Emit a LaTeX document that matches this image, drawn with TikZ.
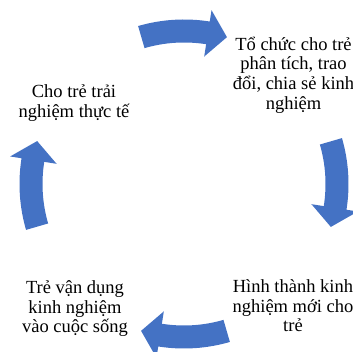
\documentclass[tikz,border=0pt]{standalone}
\usepackage{fontspec}
\setmainfont{Liberation Serif}
\definecolor{arrowblue}{RGB}{68,114,196}
\tikzset{
  lbl/.style={align=center, inner sep=0pt, anchor=north,
    font=\fontsize{18.5}{19.7}\selectfont,
    execute at begin node={\lineskiplimit=-100pt\relax\rule{0pt}{18pt}}},
  pics/cyc arrow/.style={code={
    \fill[arrowblue] (#1+16.2:164.5pt)
      arc[start angle=#1+16.2, end angle=#1-9, radius=164.5pt]
      -- (#1-9:176pt) -- (#1-16.3:153pt) -- (#1-9:129pt) -- (#1-9:141.5pt)
      arc[start angle=#1-9, end angle=#1+16.2, radius=141.5pt] -- cycle;
  }}
}
\begin{document}
\begin{tikzpicture}[x=1pt,y=1pt]
\useasboundingbox (0,0) rectangle (353,352);
\clip (0,0) rectangle (353,352);
\coordinate (c) at (184,168);
\pic (top) at (c) {cyc arrow=90};
\pic (right) at (c) {cyc arrow=0};
\pic (bottom) at (c) {cyc arrow=-90};
\pic (left) at (c) {cyc arrow=180};
\node[lbl] (tl) at (74,267.5) {Cho trẻ trải\\nghiệm thực tế};
\node[lbl] (tr) at (293.5,315.5) {Tổ chức cho trẻ\\phân tích, trao\\đổi, chia sẻ kinh\\nghiệm};
\node[lbl] (br) at (293,72.5) {Hình thành kinh\\nghiệm mới cho\\trẻ};
\node[lbl] (bl) at (75,71.5) {Trẻ vận dụng\\kinh nghiệm\\vào cuộc sống};
\end{tikzpicture}
\end{document}
